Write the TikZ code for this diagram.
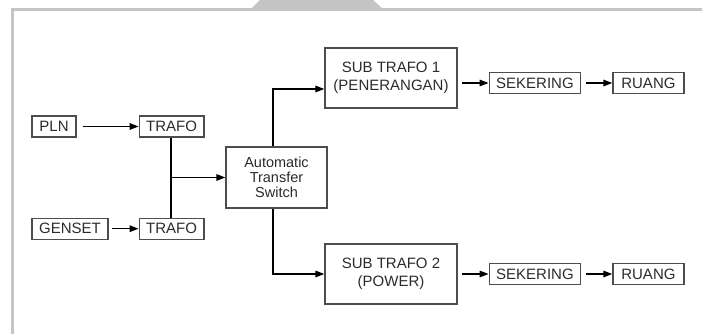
\documentclass[tikz,border=0pt]{standalone}
\usepackage{fontspec}
\setmainfont{Liberation Sans}
\usetikzlibrary{positioning, arrows.meta}

\definecolor{framegray}{HTML}{C4C4C4}
\definecolor{boxgray}{HTML}{4D4D4D}
\definecolor{textgray}{HTML}{2B2B2B}

\begin{document}
\begin{tikzpicture}[
    x=1pt, y=1pt,
    every node/.style={font=\fontsize{15}{15}\selectfont, text=textgray},
    box/.style={draw=boxgray, line width=1.2pt, minimum height=21pt, inner xsep=7pt, inner ysep=0pt},
    bigbox/.style={box, minimum width=132pt, minimum height=60pt, align=center, font=\fontsize{15}{18}\selectfont},
    flow/.style={-{Triangle[length=9pt,width=6.5pt]}, line width=1.5pt},
    wire/.style={line width=1.5pt}
]
    % page and grey frame
    \useasboundingbox (0,0) rectangle (702,334);
    \fill[framegray] (251,325) -- (260,334) -- (373,334) -- (383,325) -- cycle;
    \draw[framegray, line width=3pt] (12,0) -- (12,324) -- (702,324);

    % Place the nodes
    \node (pln) [box, minimum width=44pt] at (54,207.5) {PLN};
    \node (trafoa) [box, minimum width=63pt, right=62pt of pln] {TRAFO};
    \node (trafob) [box, minimum width=63pt, below=80pt of trafoa] {TRAFO};
    \node (genset) [box, minimum width=76pt, left=30pt of trafob] {GENSET};
    \node (ats) [box, minimum width=101pt, minimum height=61pt, align=center,
        font=\fontsize{14.5}{15}\selectfont] at (276.5,156.5) {Automatic\\Transfer\\Switch};

    \node (suba) [bigbox] at (391,256) {SUB TRAFO 1\\(PENERANGAN)};
    \node (seka) [box, minimum width=90pt, right=31pt of suba, yshift=-5pt] {SEKERING};
    \node (ruanga) [box, minimum width=71pt, right=31pt of seka] {RUANG};

    \node (subb) [bigbox] at (391,60) {SUB TRAFO 2\\(POWER)};
    \node (sekb) [box, minimum width=90pt, right=31pt of subb] {SEKERING};
    \node (ruangb) [box, minimum width=71pt, right=31pt of sekb] {RUANG};

    % Draw the connectors
    \draw [flow, shorten <=6pt] (pln) -- (trafoa);
    \draw [flow, shorten <=3pt] (genset) -- (trafob);
    \draw [wire] ([xshift=-0.5pt]trafoa.south) -- ([xshift=-0.5pt]trafob.north);
    \draw [flow] ([xshift=-0.5pt]trafoa.south |- ats.west) -- (ats.west);

    \draw [flow] ([xshift=-3.5pt]ats.north) |- ([yshift=-11pt]suba.west);
    \draw [flow] ([xshift=-3.5pt]ats.south) |- (subb.west);

    \draw [flow, shorten <=4pt] (suba.east |- seka.west) -- (seka.west);
    \draw [flow, shorten <=5pt] (seka) -- (ruanga);
    \draw [flow, shorten <=4pt] (subb) -- (sekb);
    \draw [flow, shorten <=5pt] (sekb) -- (ruangb);
\end{tikzpicture}
\end{document}
